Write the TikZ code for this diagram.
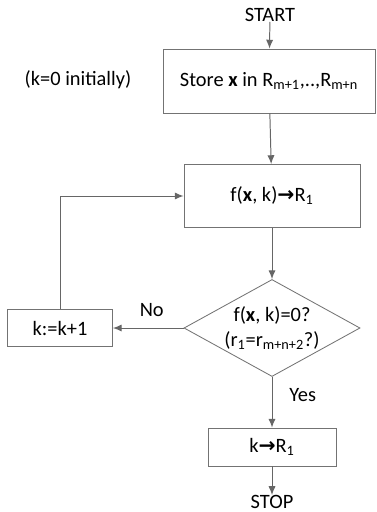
\documentclass[tikz,border=0pt]{standalone}
\usepackage{fontspec}
\setmainfont{Carlito}
\newfontfamily\arrowfont{DejaVu Sans}
\usetikzlibrary{shapes.geometric}
\usetikzlibrary{arrows.meta}
\tikzset{every edge/.style={draw=black!60, line width=0.7pt, -{Latex[length=2.2mm,width=1.8mm]}}}
\tikzset{procbox/.style={draw=black!55, line width=0.6pt, inner sep=0pt}}
\tikzset{label/.style={inner sep=0pt}}
\newcommand{\thickarrow}{{\arrowfont\bfseries\symbol{"2192}}}

\begin{document}
\begin{tikzpicture}[x=0.025cm, y=-0.025cm, font=\fontsize{14.5}{18}\selectfont]
  \useasboundingbox (0, 0) rectangle (376, 512);

  \node[label] at (270, 15) (start) {START};
  \node[procbox, minimum width=5.3cm, minimum height=1.6cm] at (269, 81) (store) {Store \textbf{x} in R\textsubscript{m+1},..,R\textsubscript{m+n}};
  \node[label] at (78, 80) (init) {(k=0 initially)};

  \node[procbox, minimum width=4.4cm, minimum height=1.575cm] at (272, 196) (eval) {f(\textbf{x}, k)\thickarrow R\textsubscript{1}};
  \node[procbox, diamond, aspect=1.81, minimum width=4.4cm, minimum height=2.425cm, align=center] at (272, 328) (test) {f(\textbf{x}, k)=0?\\(r\textsubscript{1}=r\textsubscript{m+n+2}?)};
  \node[procbox, minimum width=2.625cm, minimum height=0.925cm] at (60, 328) (incr) {k:=k+1};
  \node[procbox, minimum width=3.2cm, minimum height=0.95cm] at (272, 447) (out) {k\thickarrow R\textsubscript{1}};
  \node[label] at (272, 502) (stop) {STOP};

  \coordinate (corner) at (incr.north |- eval.west);

  \draw (start) edge (store);
  \draw (store) edge (eval);
  \draw (eval) edge (test);
  \draw (test) edge node[above, label, yshift=8pt, pos=0.45] {No} (incr);
  \draw (test) edge node[right, label, xshift=12pt, pos=0.35] {Yes} (out);
  \draw (out) edge (stop);
  \draw[draw=black!60, line width=0.7pt] (incr.north) -- (corner);
  \draw (corner) edge (eval.west);
\end{tikzpicture}
\end{document}
